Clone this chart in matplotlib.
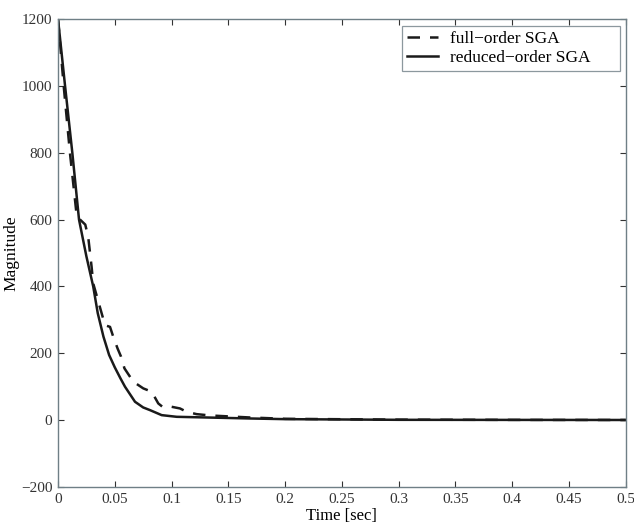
import matplotlib
matplotlib.use("Agg")
import matplotlib.pyplot as plt

plt.rcParams['font.family'] = ['Liberation Serif', 'DejaVu Serif']

# time axis and magnitudes
t_full = [0, 0.005, 0.0105, 0.0165, 0.020, 0.024, 0.0266, 0.0296, 0.031,
          0.0414, 0.0458, 0.0487, 0.0525, 0.0555, 0.0585, 0.0663, 0.0751, 0.0825,
          0.0883, 0.0927, 0.100, 0.1074, 0.1133, 0.122, 0.134, 0.169, 0.2, 0.3,
          0.4, 0.5]
full_order = [1200, 1000, 800, 610, 598, 585, 548, 458, 409,
              284, 279, 249, 214, 190, 155, 115, 95, 85,
              50, 38, 40, 35, 25, 18, 14, 8, 4, 1.5,
              0.8, 0.5]

t_red = [0, 0.0062, 0.0126, 0.0185, 0.025, 0.031, 0.035, 0.040, 0.045, 0.050,
         0.055, 0.059, 0.0678, 0.075, 0.081, 0.0913, 0.1045, 0.169, 0.2, 0.3, 0.5]
reduced_order = [1200, 1000, 800, 600, 490, 400, 320, 250, 195, 158,
                 125, 100, 55, 38, 30, 15, 10, 5, 3, 1, 0.5]

xticks = [0, 0.05, 0.1, 0.15, 0.2, 0.25, 0.3, 0.35, 0.4, 0.45, 0.5]
xticklabels = ['0', '0.05', '0.1', '0.15', '0.2', '0.25', '0.3', '0.35', '0.4', '0.45', '0.5']
yticks = [-200, 0, 200, 400, 600, 800, 1000, 1200]

fig = plt.figure(figsize=(6.34, 5.24), dpi=100)
ax = fig.add_axes([0.0915, 0.0706, 0.8955, 0.8931])

ax.plot(t_full, full_order, color='#1a1a1a', linestyle=(0, (5, 4)), linewidth=1.8,
        label='full\u2212order SGA')
ax.plot(t_red, reduced_order, color='#1a1a1a', linestyle='-', linewidth=1.8,
        label='reduced\u2212order SGA')

ax.set_xlim(0, 0.5)
ax.set_ylim(-200, 1200)
ax.set_xticks(xticks)
ax.set_xticklabels(xticklabels)
ax.set_yticks(yticks)
ax.set_yticklabels([str(v).replace('-', '\u2212') for v in yticks])

ax.tick_params(direction='in', top=True, right=True, length=4, labelsize=11,
               colors='#333333', width=0.8, pad=4)
for s in ax.spines.values():
    s.set_color('#6f7f86')
    s.set_linewidth(1.0)

ax.set_xlabel('Time [sec]', fontsize=12, labelpad=1.5)
ax.set_ylabel('Magnitude', fontsize=12.5, labelpad=1)

leg = ax.legend(loc='upper left', bbox_to_anchor=(0.6056, 0.985, 0.3838, 0.0),
                mode='expand', fontsize=12.5, fancybox=False, frameon=True,
                edgecolor='#6f7f86', handlelength=1.8, borderaxespad=0.0,
                borderpad=0.3, labelspacing=0.15, handletextpad=0.7)
leg.get_frame().set_linewidth(0.9)

fig.savefig('out.png', dpi=100)
